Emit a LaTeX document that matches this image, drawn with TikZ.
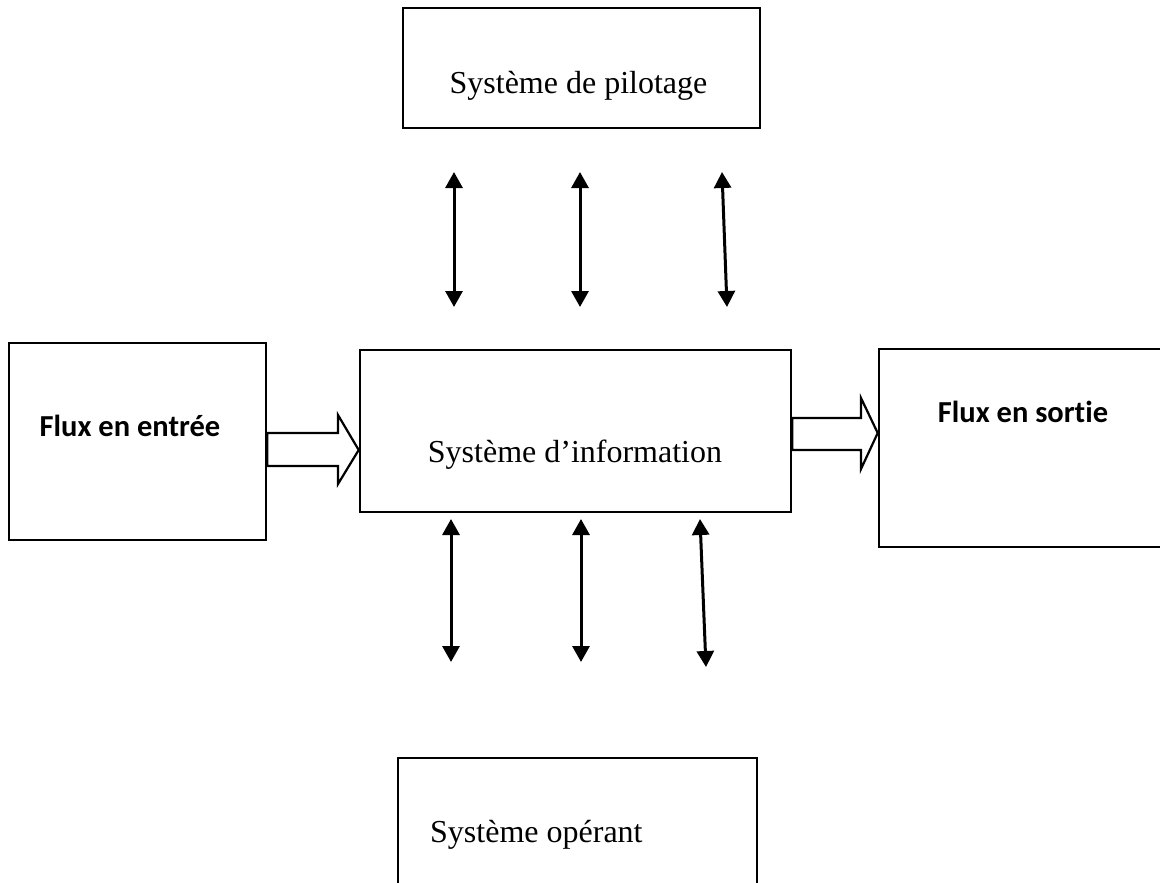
\documentclass[tikz,border=0pt]{standalone}
\usepackage{fontspec}
\setmainfont{Liberation Serif}
\newfontfamily\labelfont[Ligatures={NoCommon,NoRare}]{Carlito}
\usetikzlibrary{arrows.meta}
\begin{document}
\begin{tikzpicture}[x=1pt,y=-1pt,
  box/.style={draw,line width=2.6pt,rectangle,inner sep=0pt},
  serif/.style={font=\fontsize{32}{36}\selectfont,inner sep=0pt},
  flux/.style={font=\labelfont\bfseries\fontsize{30.5}{34}\selectfont,inner sep=0pt},
  link/.style={line width=3pt,{Triangle[width=17pt,length=16pt]}-{Triangle[width=17pt,length=16pt]}},
  hollow/.style={draw,line width=2.2pt,fill=white,line join=miter}]
\useasboundingbox (0,0) rectangle (1160,883);

% boxes
\node[box,minimum width=357pt,minimum height=120pt] (pilot) at (581.5,68) {};
\node[box,minimum width=257pt,minimum height=197pt] (entree) at (137.5,441.5) {};
\node[box,minimum width=431pt,minimum height=162pt] (info) at (575.5,431) {};
\node[box,minimum width=321pt,minimum height=198pt] (sortie) at (1039.5,448) {};
\node[box,minimum width=359pt,minimum height=172pt] (operant) at (577.5,844) {};

% labels
\node[serif,anchor=base] (pilotlabel) at (578.5,93) {Système de pilotage};
\node[serif,anchor=base] (infolabel) at (575,462) {Système d’information};
\node[serif,anchor=base west] (operantlabel) at (430,842) {Système opérant};
\node[flux,anchor=base] (entreelabel) at (130,436) {Flux en entrée};
\node[flux,anchor=base] (sortielabel) at (1023,422) {Flux en sortie};

% double arrows between the information system and the two other systems
\coordinate (p1) at (454,172); \coordinate (i1) at (454,307);
\coordinate (p2) at (580,172); \coordinate (i2) at (580,307);
\coordinate (p3) at (722,172); \coordinate (i3) at (727,307);
\coordinate (j1) at (451,519); \coordinate (o1) at (451,662);
\coordinate (j2) at (581,519); \coordinate (o2) at (581,662);
\coordinate (j3) at (700,519); \coordinate (o3) at (706,667);
\draw[link] (p1) -- (i1);
\draw[link] (p2) -- (i2);
\draw[link] (p3) -- (i3);
\draw[link] (j1) -- (o1);
\draw[link] (j2) -- (o2);
\draw[link] (j3) -- (o3);

% hollow flow arrows
\draw[hollow] (entree.east |- 0,433) -- (338,433) -- (338,415) -- (info.west |- 0,450)
  -- (338,484) -- (338,466) -- (entree.east |- 0,466) -- cycle;
\draw[hollow] (info.east |- 0,418) -- (861,418) -- (861,398) -- (sortie.west |- 0,433)
  -- (861,469) -- (861,450) -- (info.east |- 0,450) -- cycle;
\end{tikzpicture}
\end{document}
